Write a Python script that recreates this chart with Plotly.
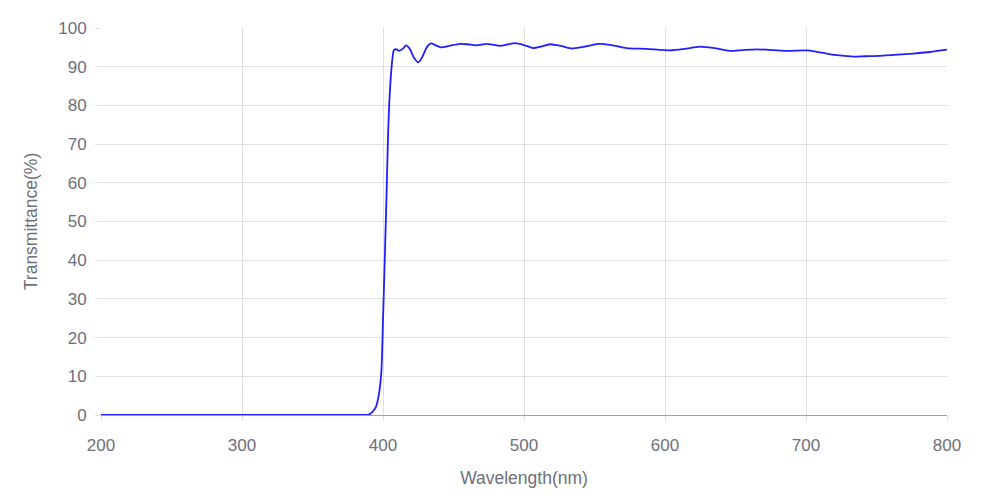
import plotly.graph_objects as go

wavelength = [200, 300, 380, 386, 390, 392, 395, 397.2, 398.9, 400, 401, 402, 403, 403.7, 404.5,
              405.4, 406.5, 407.7, 409.5, 411.5, 414, 416.3, 419, 422, 425, 428, 431, 434, 437.5,
              441, 447, 454.6, 460, 466, 473.5, 478, 483, 488, 493.6, 500, 506.6, 512, 518.4, 526,
              533.8, 542, 552.7, 562, 572.8, 587, 603.5, 614, 624.8, 635, 646, 655, 665, 672, 686,
              700.5, 707, 714.6, 724, 733.5, 742, 752.5, 765, 776, 788, 800]
transmittance = [0, 0, 0, 0.02, 0.1, 0.6, 2.1, 5.6, 11.6, 24.5, 37, 50, 64, 73.6, 81,
                 86.6, 91.5, 94.3, 94.5, 94.1, 94.6, 95.5, 94.6, 92.3, 91.1, 92.6, 95.0, 96.0, 95.5,
                 95.0, 95.4, 95.9, 95.8, 95.5, 95.9, 95.7, 95.4, 95.7, 96.1, 95.6, 94.8, 95.2, 95.8, 95.4,
                 94.7, 95.1, 95.9, 95.6, 94.8, 94.6, 94.2, 94.6, 95.2, 94.8, 94.1, 94.3, 94.5, 94.4, 94.1,
                 94.2, 93.9, 93.4, 92.9, 92.6, 92.7, 92.8, 93.1, 93.4, 93.8, 94.4]

x_ticks = [200, 300, 400, 500, 600, 700, 800]
y_ticks = [0, 10, 20, 30, 40, 50, 60, 70, 80, 90, 100]

font_family = "Liberation Sans, Arial, sans-serif"
text_color = "#6e7079"
grid_color = "#e0e0e0"

fig = go.Figure(go.Scatter(
    x=wavelength, y=transmittance, mode="lines",
    line=dict(color="#1f1fff", width=1.8, shape="spline", smoothing=0.6),
    hoverinfo="x+y", showlegend=False,
))

fig.update_layout(
    width=976, height=496,
    margin=dict(l=93, r=37, t=20, b=89),
    paper_bgcolor="white", plot_bgcolor="white",
    font=dict(family=font_family, color=text_color, size=17),
    xaxis=dict(
        range=[200, 800], tickvals=x_ticks, showgrid=True, gridcolor=grid_color, gridwidth=1,
        zeroline=False, showline=True, linecolor="#a0a0a0", linewidth=1,
        ticks="outside", ticklen=5, tickcolor=grid_color,
        tickfont=dict(size=17, color=text_color), ticklabelstandoff=10,
        title=dict(text="Wavelength(nm)", font=dict(size=17.5, color=text_color), standoff=17),
    ),
    yaxis=dict(
        range=[0, 100], tickvals=y_ticks, showgrid=True, gridcolor=grid_color, gridwidth=1,
        zeroline=False, showline=False,
        ticks="outside", ticklen=5, tickcolor=grid_color,
        tickfont=dict(size=17, color=text_color), ticklabelstandoff=5,
        title=dict(text="Transmittance(%)", font=dict(size=17.5, color=text_color), standoff=16),
    ),
)

fig.write_html("out.html")
